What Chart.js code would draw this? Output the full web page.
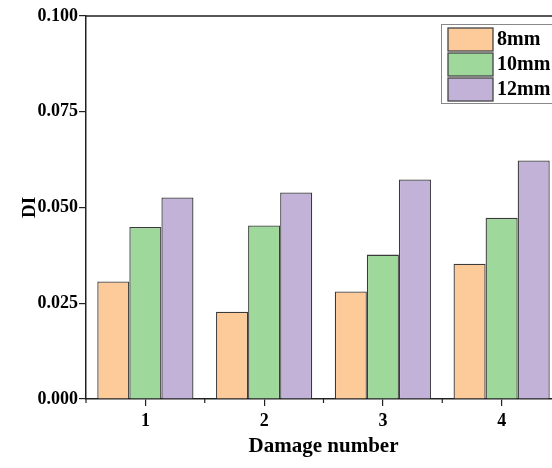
<!DOCTYPE html>
<html>
<head>
<meta charset="utf-8">
<script src="https://cdn.jsdelivr.net/npm/chart.js@4/dist/chart.umd.min.js"></script>
<style>
  html, body { margin: 0; padding: 0; background: #fff; overflow: hidden; width: 552px; height: 468px; }
  #wrap { width: 562px; height: 468px; }
</style>
</head>
<body>
<div id="wrap"><canvas id="chart" width="562" height="468"></canvas></div>
<script>
// data
const damageNumbers = ['1', '2', '3', '4'];
const seriesNames = ['8mm', '10mm', '12mm'];
const di8mm = [0.0307, 0.0228, 0.0281, 0.0353];
const di10mm = [0.0449, 0.0453, 0.0377, 0.0473];
const di12mm = [0.0526, 0.0539, 0.0573, 0.0623];
const yTicks = [0, 0.025, 0.05, 0.075, 0.1];

const fillColors = ['#fdca9a', '#9fd89b', '#c2b2d8'];
const serif = "'Liberation Serif', 'Times New Roman', serif";

// frame, minor ticks between groups, and the boxed legend
const framePlugin = {
  id: 'frame',
  afterDraw(chart) {
    const ctx = chart.ctx;
    const area = chart.chartArea;
    const x = chart.scales.x;
    ctx.save();
    ctx.strokeStyle = '#222';
    ctx.lineWidth = 1.5;
    ctx.beginPath();
    ctx.moveTo(area.left, area.top);
    ctx.lineTo(area.right, area.top);
    ctx.lineTo(area.right, area.bottom);
    ctx.stroke();

    // minor ticks at category boundaries
    ctx.lineWidth = 1.2;
    for (let i = 0; i <= damageNumbers.length; i++) {
      const px = x.getPixelForValue(i - 0.5);
      ctx.beginPath();
      ctx.moveTo(px, area.bottom);
      ctx.lineTo(px, area.bottom + 4);
      ctx.stroke();
    }

    // legend
    const lx = 441, ly = 24, rowH = 25;
    ctx.strokeStyle = '#888';
    ctx.lineWidth = 1;
    ctx.strokeRect(lx + 0.5, ly + 0.5, 130, 79);
    ctx.font = 'bold 20px ' + serif;
    ctx.textBaseline = 'middle';
    ctx.textAlign = 'left';
    chart.data.datasets.forEach((ds, i) => {
      const top = ly + 4 + i * rowH;
      ctx.fillStyle = ds.backgroundColor;
      ctx.fillRect(448, top, 45, 23);
      ctx.strokeStyle = '#444';
      ctx.lineWidth = 1.3;
      ctx.strokeRect(448, top, 45, 23);
      ctx.fillStyle = '#000';
      ctx.fillText(ds.label, 497, top + 12);
    });
    ctx.restore();
  }
};

new Chart(document.getElementById('chart'), {
  type: 'bar',
  data: {
    labels: damageNumbers,
    datasets: [di8mm, di10mm, di12mm].map((vals, i) => ({
      label: seriesNames[i],
      data: vals,
      backgroundColor: fillColors[i],
      borderColor: '#3a3a3a',
      borderWidth: 1.3,
      barPercentage: 1,
      categoryPercentage: 0.81
    }))
  },
  options: {
    responsive: false,
    animation: false,
    layout: { padding: { top: 16, right: 1, left: 0, bottom: 0 } },
    plugins: {
      legend: { display: false },
      tooltip: { enabled: false }
    },
    scales: {
      x: {
        afterFit(scale) { scale.height = 69; },
        grid: { offset: false, drawOnChartArea: false, drawTicks: true, tickLength: 7, color: '#222', lineWidth: 1.2 },
        border: { display: true, color: '#222', width: 1.5 },
        ticks: { color: '#000', padding: 5, font: { family: serif, size: 18, weight: 'bold' } },
        title: {
          display: true,
          text: 'Damage number',
          color: '#000',
          padding: { top: 0, bottom: 9 },
          font: { family: serif, size: 21, weight: 'bold' }
        }
      },
      y: {
        min: 0,
        max: 0.1,
        afterFit(scale) { scale.width = 86; },
        afterBuildTicks(scale) { scale.ticks = yTicks.map(v => ({ value: v })); },
        grid: { drawOnChartArea: false, drawTicks: true, tickLength: 7, color: '#222', lineWidth: 1.2 },
        border: { display: true, color: '#222', width: 1.5 },
        ticks: {
          color: '#000',
          padding: 1,
          font: { family: serif, size: 18, weight: 'bold' },
          callback: v => Number(v).toFixed(3)
        },
        title: {
          display: true,
          text: 'DI',
          color: '#000',
          padding: { top: 19, bottom: 0 },
          font: { family: serif, size: 19, weight: 'bold' }
        }
      }
    }
  },
  plugins: [framePlugin]
});
</script>
</body>
</html>
